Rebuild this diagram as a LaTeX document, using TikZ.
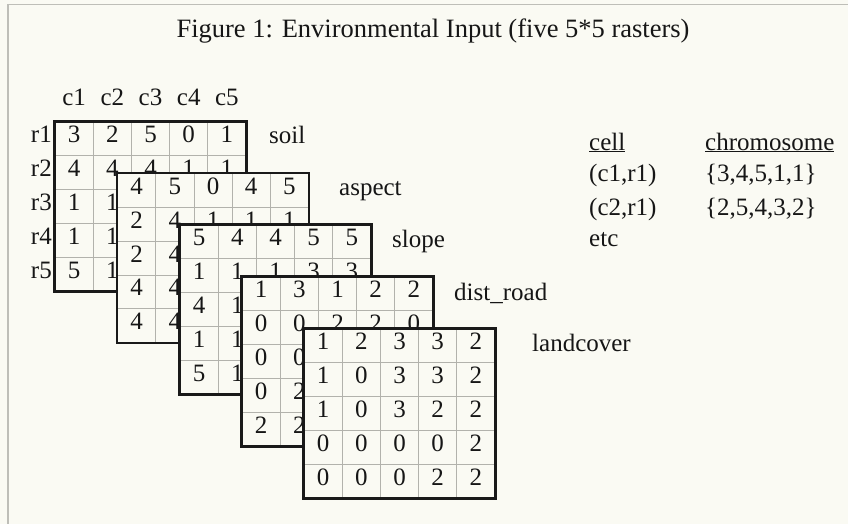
\documentclass[tikz,border=0pt]{standalone}
\usepackage{fontspec}
\setmainfont{Liberation Serif}

\definecolor{paper}{RGB}{250,250,243}
\definecolor{cellgray}{RGB}{178,178,172}
\definecolor{ink}{RGB}{22,22,22}
\definecolor{edgegray}{RGB}{190,190,184}

\begin{document}
\begin{tikzpicture}[
    x=1pt, y=-1pt,
    font=\fontsize{25}{28}\selectfont,
    cell/.style={draw=cellgray, line width=0.8pt, fill=paper, text=ink, minimum width=38.2pt, minimum height=33.8pt, inner sep=0pt, text height=14pt, text depth=6pt},
    frame/.style={draw=black!90, line width=2.6pt},
    lbl/.style={anchor=base west, text=ink, inner sep=0pt},
    head/.style={anchor=base, text=ink, inner sep=0pt},
    edge/.style={draw=edgegray, line width=1.2pt}
]

    % Page
    \fill[paper] (0,0) rectangle (848,524);
    \useasboundingbox (0,0) rectangle (848,524);
    \draw[edge] (8,524) -- (8,4.5) -- (848,4.5);

    \node[head, font=\fontsize{26.5}{30}\selectfont] (title) at (433,38) {Figure 1: Environmental Input (five 5*5 rasters)};

    % Raster 1: soil
    \foreach \vals [count=\r] in {{3,2,5,0,1},{4,4,4,1,1},{1,1,{},{},{}},{1,1,{},{},{}},{5,1,{},{},{}}}
        \foreach \v [count=\c] in \vals
            \node[cell] (soil-\r-\c) at ({55+(\c-0.5)*38.2}, {122+(\r-0.5)*33.8}) {\v};
    \draw[frame] (soil-1-1.north west) rectangle (soil-5-5.south east);
    \node[lbl] (soil-lbl) at (269,143) {soil};

    % column and row names
    \foreach \c in {1,...,5}
        \node[head] (col-\c) at ({55+(\c-0.5)*38.2}, 106) {c\c};
    \foreach \r in {1,...,5}
        \node[head, anchor=base east] (row-\r) at (52, {122+(\r-0.5)*33.8+4}) {r\r};

    % Raster 2: aspect
    \foreach \vals [count=\r] in {{4,5,0,4,5},{2,4,1,1,1},{2,4,{},{},{}},{4,4,{},{},{}},{4,4,{},{},{}}}
        \foreach \v [count=\c] in \vals
            \node[cell] (aspect-\r-\c) at ({117.5+(\c-0.5)*38.2}, {173.5+(\r-0.5)*33.8}) {\v};
    \draw[frame] (aspect-1-1.north west) rectangle (aspect-5-5.south east);
    \node[lbl] (aspect-lbl) at (339,195) {aspect};

    % Raster 3: slope
    \foreach \vals [count=\r] in {{5,4,4,5,5},{1,1,1,3,3},{4,1,{},{},{}},{1,1,{},{},{}},{5,1,{},{},{}}}
        \foreach \v [count=\c] in \vals
            \node[cell] (slope-\r-\c) at ({180+(\c-0.5)*38.2}, {225+(\r-0.5)*33.8}) {\v};
    \draw[frame] (slope-1-1.north west) rectangle (slope-5-5.south east);
    \node[lbl] (slope-lbl) at (392,247) {slope};

    % Raster 4: dist_road
    \foreach \vals [count=\r] in {{1,3,1,2,2},{0,0,2,2,0},{0,0,{},{},{}},{0,2,{},{},{}},{2,2,{},{},{}}}
        \foreach \v [count=\c] in \vals
            \node[cell] (road-\r-\c) at ({242+(\c-0.5)*38.2}, {277+(\r-0.5)*33.8}) {\v};
    \draw[frame] (road-1-1.north west) rectangle (road-5-5.south east);
    \node[lbl] (road-lbl) at (454,300) {dist\_road};

    % Raster 5: landcover
    \foreach \vals [count=\r] in {{1,2,3,3,2},{1,0,3,3,2},{1,0,3,2,2},{0,0,0,0,2},{0,0,0,2,2}}
        \foreach \v [count=\c] in \vals
            \node[cell] (land-\r-\c) at ({304+(\c-0.5)*38.2}, {329+(\r-0.5)*33.8}) {\v};
    \draw[frame] (land-1-1.north west) rectangle (land-5-5.south east);
    \node[lbl] (land-lbl) at (532,351) {landcover};

    % Cell -> chromosome table
    \node[lbl] (tab-cell) at (589,150) {\underline{cell}};
    \node[lbl] (tab-chrom) at (705,150) {\underline{chromosome}};
    \node[lbl] (tab-c1) at (589,181) {(c1,r1)};
    \node[lbl] (tab-v1) at (705,181) {\{3,4,5,1,1\}};
    \node[lbl] (tab-c2) at (589,215) {(c2,r1)};
    \node[lbl] (tab-v2) at (705,215) {\{2,5,4,3,2\}};
    \node[lbl] (tab-etc) at (589,246) {etc};

\end{tikzpicture}
\end{document}
